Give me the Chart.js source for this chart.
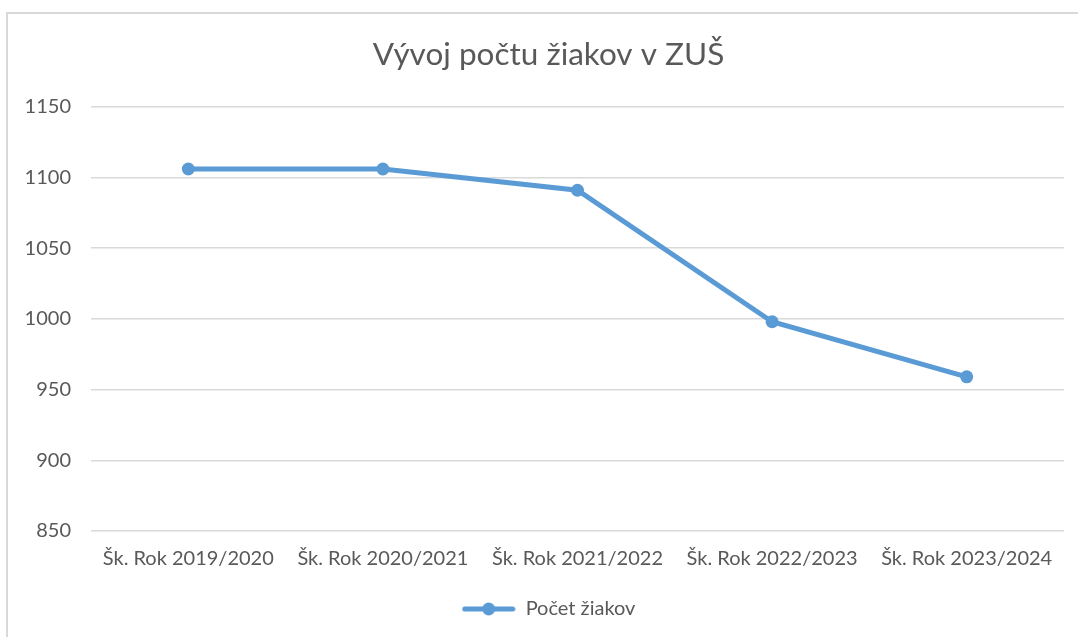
<!DOCTYPE html>
<html>
<head>
<meta charset="utf-8">
<script src="https://cdn.jsdelivr.net/npm/chart.js@4"></script>
<style>
  html, body { margin: 0; padding: 0; background: #fff; overflow: hidden; }
  #frame { position: absolute; left: 6px; top: 12px; width: 2000px; height: 2000px; border: 2px solid #d9d9d9; }
  #wrap { position: absolute; left: 0; top: 0; width: 1078px; height: 637px; }
</style>
</head>
<body>
<div id="frame"></div>
<div id="wrap"><canvas id="myChart" width="1078" height="637"></canvas></div>
<script>
const ctx = document.getElementById('myChart');

const roky = ['Šk. Rok 2019/2020', 'Šk. Rok 2020/2021', 'Šk. Rok 2021/2022', 'Šk. Rok 2022/2023', 'Šk. Rok 2023/2024'];
const pocetZiakov = [1106, 1106, 1091, 998, 959];
const nazovSerie = 'Počet žiakov';
const nadpis = 'Vývoj počtu žiakov v ZUŠ';

const modra = '#5b9bd5';
const seda = '#595959';

Chart.defaults.font.family = 'Lato';
Chart.defaults.color = seda;

// ikona do legendy: ciara s bodom
const ikona = document.createElement('canvas');
ikona.width = 54;
ikona.height = 14;
const ic = ikona.getContext('2d');
ic.strokeStyle = modra;
ic.lineWidth = 5;
ic.lineCap = 'round';
ic.beginPath();
ic.moveTo(3, 7);
ic.lineTo(51, 7);
ic.stroke();
ic.fillStyle = modra;
ic.beginPath();
ic.arc(27, 7, 6.5, 0, Math.PI * 2);
ic.fill();

new Chart(ctx, {
  type: 'line',
  data: {
    labels: roky,
    datasets: [{
      label: nazovSerie,
      data: pocetZiakov,
      borderColor: modra,
      backgroundColor: modra,
      borderWidth: 5,
      pointRadius: 6.5,
      pointHoverRadius: 6.5,
      pointBorderWidth: 0,
      tension: 0
    }]
  },
  options: {
    responsive: false,
    animation: false,
    layout: { padding: { left: 22, right: 3, top: 13, bottom: 8 } },
    plugins: {
      title: {
        display: true,
        text: nadpis,
        font: { size: 31.5, weight: 'normal' },
        color: seda,
        padding: { top: 23, bottom: 33 }
      },
      legend: {
        position: 'bottom',
        labels: {
          usePointStyle: true,
          pointStyleWidth: 54,
          font: { size: 20 },
          color: seda,
          padding: 10,
          generateLabels: (chart) => {
            const items = Chart.defaults.plugins.legend.labels.generateLabels(chart);
            items.forEach(i => { i.pointStyle = ikona; });
            return items;
          }
        }
      },
      tooltip: { enabled: false }
    },
    scales: {
      x: {
        offset: true,
        grid: { display: false, drawTicks: false },
        border: { display: false },
        ticks: { font: { size: 20 }, color: seda, padding: 16, maxRotation: 0 },
        afterFit: (axis) => { axis.height = 58; }
      },
      y: {
        min: 850,
        max: 1150,
        grid: { color: '#d9d9d9', lineWidth: 1.5, drawTicks: false },
        border: { display: false },
        ticks: { stepSize: 50, font: { size: 20 }, color: seda, padding: 20, callback: (v) => String(v) },
        afterFit: (axis) => { axis.width = 69; }
      },
      // prazdna os vpravo, len kvoli okraju
      y2: {
        position: 'right',
        grid: { display: false, drawTicks: false },
        border: { display: false },
        ticks: { display: false },
        afterFit: (axis) => { axis.width = 11; }
      }
    }
  }
});
</script>
</body>
</html>
